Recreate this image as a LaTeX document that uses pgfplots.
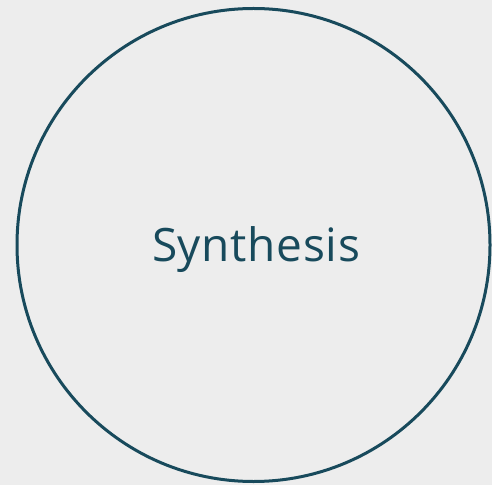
\documentclass[border=0pt]{standalone}
\usepackage{pgfplots}
\pgfplotsset{compat=1.18}
\usepackage{fontspec}
\setmainfont{Open Sans}
\newfontfamily\labelfont[LetterSpace=1.5]{Open Sans}
\definecolor{bg}{HTML}{EDEDED}
\definecolor{teal}{HTML}{184A5C}
\begin{document}
\begin{tikzpicture}
\begin{axis}[
  scale only axis, width=492pt, height=485pt,
  xmin=0, xmax=492, ymin=0, ymax=485,
  hide axis, clip mode=global,
]
\fill[bg] (axis cs:0,0) rectangle (axis cs:492,485);
\draw[teal, line width=3pt] (axis cs:253.5,240) circle[radius=236.5];
\node[text=teal, font=\labelfont\fontsize{46}{50}\selectfont, anchor=base, inner sep=0pt] at (axis cs:256,224) {Synthesis};
\end{axis}
\end{tikzpicture}
\end{document}
